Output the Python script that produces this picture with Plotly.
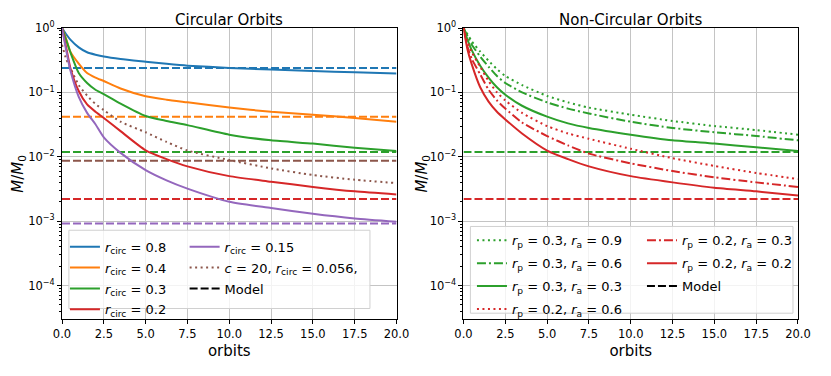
import plotly.graph_objects as go

# --- data ---
orbits = [0, 0.25, 0.5, 1, 1.5, 2, 2.5, 3.5, 5, 6.25, 7.5, 10, 12.5, 15, 17.5, 20]

circ_r08 = [1.0, 0.8, 0.66, 0.5, 0.42, 0.385, 0.36, 0.33, 0.30, 0.278, 0.26, 0.24, 0.226, 0.215, 0.205, 0.196]
circ_r04 = [1.0, 0.68, 0.43, 0.28, 0.2, 0.17, 0.15, 0.115, 0.087, 0.077, 0.07, 0.058, 0.05, 0.045, 0.040, 0.035]
circ_r03 = [1.0, 0.65, 0.42, 0.2, 0.14, 0.11, 0.094, 0.067, 0.043, 0.036, 0.031, 0.022, 0.018, 0.016, 0.0138, 0.0123]
circ_r02 = [1.0, 0.5, 0.24, 0.105, 0.065, 0.05, 0.04, 0.025, 0.0126, 0.0092, 0.0071, 0.005, 0.0041, 0.0034, 0.0029, 0.0026]
circ_r015 = [1.0, 0.45, 0.22, 0.085, 0.048, 0.032, 0.02, 0.0115, 0.0062, 0.0043, 0.0032, 0.002, 0.0016, 0.0013, 0.0011, 0.00098]
circ_c20 = [0.55, 0.33, 0.24, 0.13, 0.089, 0.066, 0.053, 0.035, 0.024, 0.017, 0.0125, 0.0089, 0.0066, 0.0052, 0.0044, 0.0039]

model_circ = [0.24, 0.042, 0.0119, 0.0022, 0.00092, 0.0087]

ecc_03_09 = [1.0, 0.8, 0.62, 0.43, 0.31, 0.23, 0.18, 0.13, 0.088, 0.07, 0.058, 0.045, 0.036, 0.030, 0.026, 0.022]
ecc_03_06 = [1.0, 0.75, 0.55, 0.36, 0.25, 0.18, 0.14, 0.1, 0.07, 0.056, 0.047, 0.035, 0.028, 0.024, 0.021, 0.018]
ecc_03_03 = [1.0, 0.65, 0.45, 0.26, 0.17, 0.12, 0.092, 0.062, 0.042, 0.033, 0.028, 0.022, 0.018, 0.016, 0.014, 0.0123]
ecc_02_06 = [1.0, 0.6, 0.42, 0.25, 0.15, 0.1, 0.075, 0.048, 0.03, 0.023, 0.019, 0.0133, 0.0095, 0.0072, 0.0056, 0.0045]
ecc_02_03 = [1.0, 0.5, 0.33, 0.19, 0.11, 0.075, 0.056, 0.034, 0.021, 0.015, 0.0112, 0.0079, 0.006, 0.0048, 0.004, 0.0034]
ecc_02_02 = [1.0, 0.45, 0.27, 0.12, 0.072, 0.05, 0.038, 0.023, 0.0125, 0.0092, 0.0071, 0.005, 0.004, 0.0033, 0.0029, 0.0025]

model_ecc = [0.0119, 0.0022]

ytick_vals = [1e-4, 1e-3, 1e-2, 1e-1, 1]
ytick_text = ["10<sup>\u22124</sup>", "10<sup>\u22123</sup>", "10<sup>\u22122</sup>", "10<sup>\u22121</sup>", "10<sup>0</sup>"]
xtick_vals = [0, 2.5, 5, 7.5, 10, 12.5, 15, 17.5, 20]

BLUE, ORANGE, GREEN, RED, PURPLE, BROWN = "#1f77b4", "#ff7f0e", "#2ca02c", "#d62728", "#9467bd", "#8c564b"
DOT = "2px,3.5px"
DASHDOT = "9px,3px,2px,3px"
DASH = "8px,3px"
FONT = "DejaVu Sans"

fig = go.Figure()


def curve(y, color, name, dash, xa, ya, legend, rank):
    fig.add_trace(go.Scatter(
        x=orbits, y=y, mode="lines", name=name, xaxis=xa, yaxis=ya, legend=legend,
        legendrank=rank, legendgroup=f"g{rank}",
        line=dict(color=color, width=2, dash=dash, shape="spline", smoothing=0.6),
    ))


def model(val, color, xa, ya):
    fig.add_trace(go.Scatter(
        x=[orbits[0], orbits[-1]], y=[val, val], mode="lines", showlegend=False,
        xaxis=xa, yaxis=ya, line=dict(color=color, width=2, dash=DASH),
    ))


def rc(v):
    return f"<i>r</i><sub>circ</sub> = {v}"


def rpa(p, a):
    return f"<i>r</i><sub>p</sub> = {p}, <i>r</i><sub>a</sub> = {a}"


# Circular orbits
for val, col in zip(model_circ, [BLUE, ORANGE, GREEN, RED, PURPLE, BROWN]):
    model(val, col, "x", "y")
curve(circ_c20, BROWN, "<i>c</i> = 20, " + rc("0.056,"), DOT, "x", "y", "legend2", 6)
curve(circ_r08, BLUE, rc("0.8"), "solid", "x", "y", "legend", 1)
curve(circ_r04, ORANGE, rc("0.4"), "solid", "x", "y", "legend", 2)
curve(circ_r03, GREEN, rc("0.3"), "solid", "x", "y", "legend", 3)
curve(circ_r02, RED, rc("0.2"), "solid", "x", "y", "legend", 4)
curve(circ_r015, PURPLE, rc("0.15"), "solid", "x", "y", "legend2", 5)
fig.add_trace(go.Scatter(x=[None], y=[None], mode="lines", name="Model", legend="legend2",
                         legendrank=7, legendgroup="g7",
                         xaxis="x", yaxis="y", line=dict(color="black", width=2, dash=DASH)))

# Non-circular orbits
for val, col in zip(model_ecc, [GREEN, RED]):
    model(val, col, "x2", "y2")
curve(ecc_03_09, GREEN, rpa("0.3", "0.9"), DOT, "x2", "y2", "legend3", 11)
curve(ecc_03_06, GREEN, rpa("0.3", "0.6"), DASHDOT, "x2", "y2", "legend3", 12)
curve(ecc_03_03, GREEN, rpa("0.3", "0.3"), "solid", "x2", "y2", "legend3", 13)
curve(ecc_02_06, RED, rpa("0.2", "0.6"), DOT, "x2", "y2", "legend3", 14)
curve(ecc_02_03, RED, rpa("0.2", "0.3"), DASHDOT, "x2", "y2", "legend4", 15)
curve(ecc_02_02, RED, rpa("0.2", "0.2"), "solid", "x2", "y2", "legend4", 16)
fig.add_trace(go.Scatter(x=[None], y=[None], mode="lines", name="Model", legend="legend4",
                         legendrank=17, legendgroup="g17",
                         xaxis="x2", yaxis="y2", line=dict(color="black", width=2, dash=DASH)))

xaxis_common = dict(
    range=[0, 20], tickvals=xtick_vals, tickformat=".1f", ticks="outside", ticklen=4,
    tickcolor="black", showline=True, linecolor="black", linewidth=1, mirror=True,
    showgrid=True, gridcolor="#c4c4c4", gridwidth=1, zeroline=False,
    tickfont=dict(size=11.5, color="black"),
    title=dict(text="orbits", font=dict(size=15, color="black"), standoff=5),
)
minor_vals = [m * 10 ** e for e in range(-5, 0) for m in range(2, 10)]
yaxis_common = dict(
    type="log", range=[-4.52, 0], tickvals=ytick_vals, ticktext=ytick_text, ticks="outside",
    ticklen=4, tickcolor="black", showline=True, linecolor="black", linewidth=1, mirror=True,
    showgrid=True, gridcolor="#c4c4c4", gridwidth=1, zeroline=False,
    tickfont=dict(size=11.5, color="black"),
    minor=dict(tickmode="array", tickvals=minor_vals, ticks="outside", ticklen=2,
               tickcolor="black", showgrid=False),
)

legend_common = dict(bgcolor="rgba(0,0,0,0)", borderwidth=0, yanchor="top", xanchor="left",
                     font=dict(size=13, family=FONT, color="black"), traceorder="grouped")

# the page body adds an 8px offset, so the figure is 16px smaller than the window
fig.update_layout(
    width=815, height=360,
    margin=dict(l=54, r=13, t=19, b=39),
    paper_bgcolor="white", plot_bgcolor="white",
    font=dict(family=FONT, color="black"),
    xaxis=dict(domain=[0, 0.4545], anchor="y", **xaxis_common),
    yaxis=dict(domain=[0, 1], anchor="x", **yaxis_common),
    xaxis2=dict(domain=[0.5455, 1], anchor="y2", **xaxis_common),
    yaxis2=dict(domain=[0, 1], anchor="x2", **yaxis_common),
    legend=dict(x=0.004, y=0.30, tracegroupgap=1, **legend_common),
    legend2=dict(x=0.1666, y=0.30, tracegroupgap=1, **legend_common),
    legend3=dict(x=0.557, y=0.322, tracegroupgap=3, **legend_common),
    legend4=dict(x=0.788, y=0.322, tracegroupgap=3, **legend_common),
    shapes=[
        dict(type="rect", xref="x domain", yref="y domain", x0=0.0206, x1=0.9206, y0=0.036, y1=0.305,
             fillcolor="rgba(255,255,255,0.8)", line=dict(color="#d0d0d0", width=1), layer="above"),
        dict(type="rect", xref="x2 domain", yref="y2 domain", x0=0.0206, x1=0.985, y0=0.0199, y1=0.318,
             fillcolor="rgba(255,255,255,0.8)", line=dict(color="#d0d0d0", width=1), layer="above"),
    ],
    annotations=[
        dict(text="Circular Orbits", xref="paper", yref="paper", x=0.2273, y=1.0, xanchor="center",
             yanchor="top", yshift=19, showarrow=False, font=dict(size=15, color="black")),
        dict(text="Non-Circular Orbits", xref="paper", yref="paper", x=0.7727, y=1.0, xanchor="center",
             yanchor="top", yshift=19, showarrow=False, font=dict(size=15, color="black")),
        dict(text="<i>M</i>/<i>M</i><sub>0</sub>", xref="paper", yref="paper", x=-0.0595, y=0.5,
             xanchor="center", yanchor="middle", textangle=-90, showarrow=False,
             font=dict(size=15, color="black")),
        dict(text="<i>M</i>/<i>M</i><sub>0</sub>", xref="paper", yref="paper", x=0.4893, y=0.5,
             xanchor="center", yanchor="middle", textangle=-90, showarrow=False,
             font=dict(size=15, color="black")),
    ],
)

fig.write_html("out.html")
